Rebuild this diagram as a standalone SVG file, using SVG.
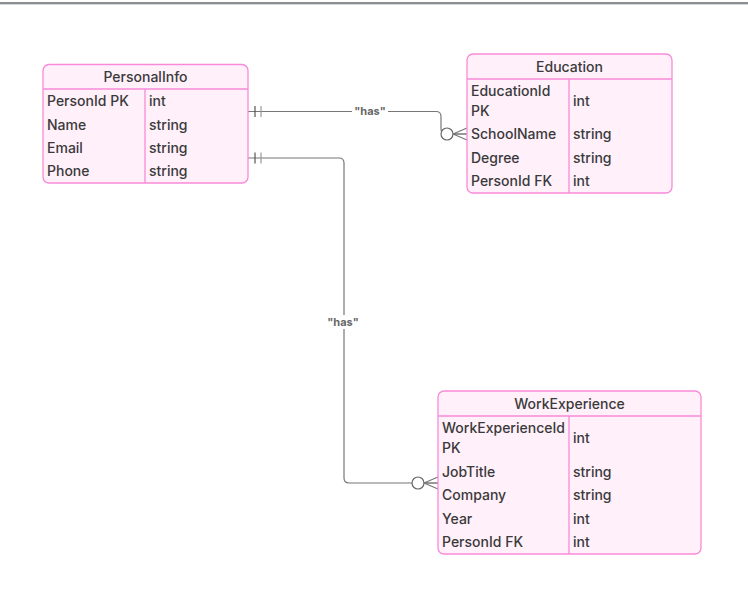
<svg xmlns="http://www.w3.org/2000/svg" width="748" height="603" viewBox="0 0 748 603">
<style>
.box{fill:#fff0fa;stroke:#f98ad9;stroke-width:1.3}
.sep{stroke:#f98ad9;stroke-width:1.3}
.t{font-family:Inter,"Liberation Sans",sans-serif;font-size:14px;font-weight:500;fill:#3a3a3a}
.h{text-anchor:middle}
.c{fill:none;stroke:#777;stroke-width:1.2}
.lbl{font-family:Inter,"Liberation Sans",sans-serif;font-size:11px;font-weight:bold;fill:#666;text-anchor:middle}
</style>
<rect x="0" y="0" width="748" height="603" fill="#fff"/>
<rect x="0" y="2" width="748" height="2" fill="#8a8d92"/>
<rect x="0" y="4" width="748" height="1" fill="#d4d9dc"/>
<g id="connectors">
<path class="c" d="M248,111.5 H436 Q441,111.5 441,116.5 V129 Q441,134 446,134 H467"/>
<line x1="255" y1="106" x2="255" y2="117" stroke="#555" stroke-width="1.2"/>
<line x1="261" y1="106" x2="261" y2="117" stroke="#999" stroke-width="1.2"/>
<circle cx="447" cy="134" r="6" fill="#fff" stroke="#666" stroke-width="1.2"/>
<path class="c" d="M453,134 L467,128 M453,134 L467,134 M453,134 L467,140"/>
<rect x="352" y="104" width="36" height="14" fill="#fff"/>
<text class="lbl" x="370" y="115">"has"</text>
<path class="c" d="M248,158 H339 Q344,158 344,163 V478 Q344,483 349,483 H438"/>
<line x1="255" y1="152.5" x2="255" y2="163.5" stroke="#555" stroke-width="1.2"/>
<line x1="261" y1="152.5" x2="261" y2="163.5" stroke="#999" stroke-width="1.2"/>
<circle cx="418" cy="483" r="6" fill="#fff" stroke="#666" stroke-width="1.2"/>
<path class="c" d="M424,483 L438,477 M424,483 L438,483 M424,483 L438,489"/>
<rect x="325" y="315" width="36" height="14" fill="#fff"/>
<text class="lbl" x="343" y="326">"has"</text>
</g>
<g id="PersonalInfo">
<rect class="box" x="43" y="64.5" width="205" height="118.5" rx="6"/>
<line class="sep" x1="43" y1="89" x2="248" y2="89"/>
<line class="sep" x1="145" y1="89" x2="145" y2="183"/>
<text class="t h" x="145.5" y="82">PersonalInfo</text>
<text class="t" x="47" y="106">PersonId PK</text><text class="t" x="149" y="106">int</text>
<text class="t" x="47" y="130">Name</text><text class="t" x="149" y="130">string</text>
<text class="t" x="47" y="153">Email</text><text class="t" x="149" y="153">string</text>
<text class="t" x="47" y="176">Phone</text><text class="t" x="149" y="176">string</text>
</g>
<g id="Education">
<rect class="box" x="467" y="54" width="205" height="139" rx="6"/>
<line class="sep" x1="467" y1="79" x2="672" y2="79"/>
<line class="sep" x1="569" y1="79" x2="569" y2="193"/>
<text class="t h" x="569.5" y="72">Education</text>
<text class="t" x="471" y="96">EducationId</text><text class="t" x="471" y="116">PK</text><text class="t" x="573" y="106">int</text>
<text class="t" x="471" y="139">SchoolName</text><text class="t" x="573" y="139">string</text>
<text class="t" x="471" y="163">Degree</text><text class="t" x="573" y="163">string</text>
<text class="t" x="471" y="186">PersonId FK</text><text class="t" x="573" y="186">int</text>
</g>
<g id="WorkExperience">
<rect class="box" x="438" y="391" width="263" height="163" rx="6"/>
<line class="sep" x1="438" y1="416" x2="701" y2="416"/>
<line class="sep" x1="569" y1="416" x2="569" y2="554"/>
<text class="t h" x="569.5" y="409">WorkExperience</text>
<text class="t" x="442" y="433">WorkExperienceId</text><text class="t" x="442" y="453">PK</text><text class="t" x="573" y="443">int</text>
<text class="t" x="442" y="477">JobTitle</text><text class="t" x="573" y="477">string</text>
<text class="t" x="442" y="500">Company</text><text class="t" x="573" y="500">string</text>
<text class="t" x="442" y="524">Year</text><text class="t" x="573" y="524">int</text>
<text class="t" x="442" y="547">PersonId FK</text><text class="t" x="573" y="547">int</text>
</g>
</svg>
